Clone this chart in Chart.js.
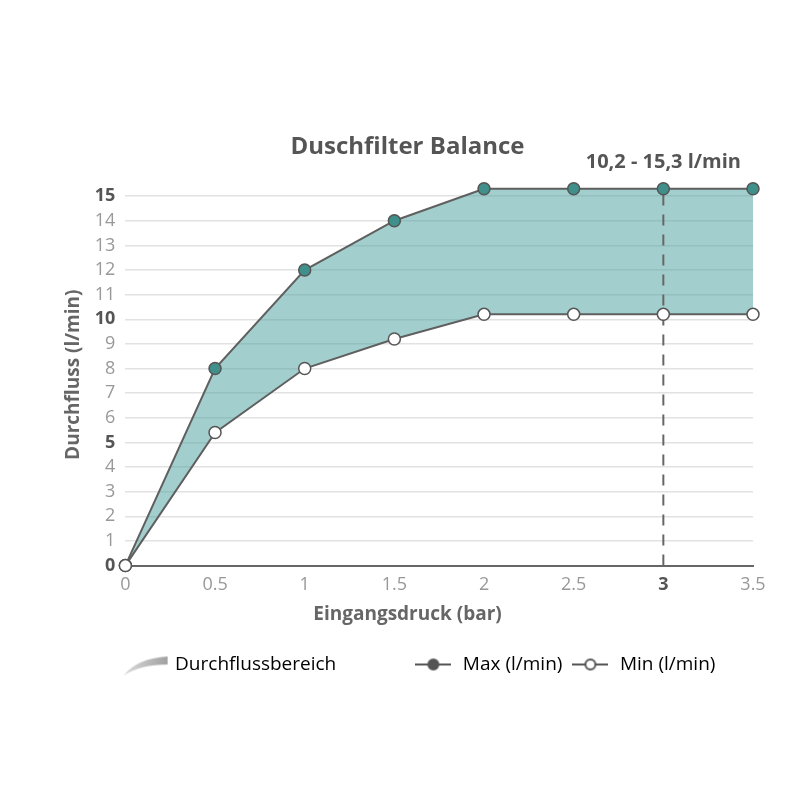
<!DOCTYPE html>
<html>
<head>
<meta charset="utf-8">
<style>
  body { margin: 0; background: #fff; }
  #wrap { width: 800px; height: 800px; }
</style>
<script src="https://cdn.jsdelivr.net/npm/chart.js@4"></script>
</head>
<body>
<div id="wrap"><canvas id="flowChart"></canvas></div>
<script>
const pressure = [0, 0.5, 1, 1.5, 2, 2.5, 3, 3.5];
const maxFlow = [0, 8, 12, 14, 15.3, 15.3, 15.3, 15.3];
const minFlow = [0, 5.4, 8, 9.2, 10.2, 10.2, 10.2, 10.2];
const markerX = 3;
const rangeLabel = '10,2 - 15,3 l/min';
const legendLabels = ['Durchflussbereich', 'Max (l/min)', 'Min (l/min)'];

const FONT = '"Open Sans", sans-serif';
const toPoints = ys => pressure.map((x, i) => ({ x: x, y: ys[i] }));
const isX = c => !!(c.tick && c.tick.value === markerX);
const isFive = c => !!(c.tick && c.tick.value % 5 === 0);

// little icons for the legend
function swooshIcon() {
    const c = document.createElement('canvas');
    c.width = 46; c.height = 24;
    const g = c.getContext('2d');
    const grad = g.createLinearGradient(0, 0, 46, 0);
    grad.addColorStop(0, '#dcdcdc');
    grad.addColorStop(1, '#a0a0a0');
    g.fillStyle = grad;
    g.beginPath();
    g.moveTo(1, 23);
    g.quadraticCurveTo(14, 6, 45, 4);
    g.lineTo(45, 12);
    g.quadraticCurveTo(18, 12, 1, 23);
    g.closePath();
    g.fill();
    return c;
}
function lineDotIcon(filled) {
    const c = document.createElement('canvas');
    c.width = 36; c.height = 14;
    const g = c.getContext('2d');
    g.strokeStyle = '#555';
    g.lineWidth = 2;
    g.beginPath(); g.moveTo(0, 7); g.lineTo(36, 7); g.stroke();
    g.beginPath(); g.arc(18, 7, 5, 0, Math.PI * 2);
    g.fillStyle = filled ? '#555' : '#fff';
    g.fill(); g.stroke();
    return c;
}
const icons = [swooshIcon(), lineDotIcon(true), lineDotIcon(false)];
const pad = [' '.repeat(14), '', ' '.repeat(6)];

const rangeText = {
    id: 'rangeText',
    afterDatasetsDraw(chart) {
        const ctx = chart.ctx;
        const x = chart.scales.x.getPixelForValue(markerX);
        ctx.save();
        ctx.font = 'bold 20px ' + FONT;
        ctx.fillStyle = '#555';
        ctx.textAlign = 'center';
        ctx.textBaseline = 'middle';
        ctx.fillText(rangeLabel, x, chart.chartArea.top - 22);
        ctx.restore();
    }
};

const ctx = document.getElementById('flowChart').getContext('2d');
const flowChart = new Chart(ctx, {
    type: 'line',
    data: {
        datasets: [{
            label: 'Min (l/min)',
            data: toPoints(minFlow),
            borderColor: '#5f5f5f',
            borderWidth: 2,
            pointRadius: 6,
            pointBackgroundColor: '#fff',
            pointBorderColor: '#555',
            pointBorderWidth: 1.5,
            fill: false,
            clip: false
        }, {
            label: 'Max (l/min)',
            data: toPoints(maxFlow),
            borderColor: '#5f5f5f',
            borderWidth: 2,
            pointRadius: 6,
            pointBackgroundColor: '#3f8f8b',
            pointBorderColor: '#555',
            pointBorderWidth: 1.5,
            backgroundColor: 'rgba(70,160,155,0.5)',
            fill: 0,
            clip: false
        }, {
            label: 'marker',
            data: [{ x: markerX, y: 0 }, { x: markerX, y: maxFlow[pressure.indexOf(markerX)] }],
            borderColor: '#666',
            borderWidth: 2,
            borderDash: [11, 9],
            pointRadius: 0,
            fill: false,
            clip: false
        }]
    },
    options: {
        responsive: true,
        maintainAspectRatio: false,
        animation: false,
        layout: { padding: { top: 133, left: 62, right: 47, bottom: 116 } },
        plugins: {
            filler: { drawTime: 'beforeDatasetsDraw' },
            tooltip: { enabled: false },
            title: {
                display: true,
                text: 'Duschfilter Balance',
                color: '#555',
                font: { family: FONT, size: 24, weight: 'bold' },
                padding: { top: 0, bottom: 22 }
            },
            subtitle: {
                display: true,
                position: 'bottom',
                weight: 500,
                text: 'Eingangsdruck (bar)',
                color: '#666',
                font: { family: FONT, size: 19, weight: 'bold' },
                padding: { top: 8, bottom: 21 }
            },
            legend: {
                position: 'bottom',
                align: 'end',
                labels: {
                    usePointStyle: true,
                    pointStyleWidth: 40,
                    padding: 8,
                    color: '#666',
                    font: { family: FONT, size: 19 },
                    generateLabels: () => legendLabels.map((t, i) => ({
                        text: t + pad[i],
                        pointStyle: icons[i],
                        fillStyle: '#fff',
                        strokeStyle: '#fff',
                        lineWidth: 0,
                        hidden: false,
                        datasetIndex: i
                    }))
                },
                onClick: null
            }
        },
        scales: {
            x: {
                type: 'linear',
                min: 0,
                max: 3.5,
                grid: { display: false },
                border: { display: true, color: '#666', width: 2 },
                ticks: {
                    stepSize: 0.5,
                    padding: 0,
                    callback: v => String(v),
                    color: c => isX(c) ? '#555' : '#999',
                    font: c => ({ family: FONT, size: 18, weight: isX(c) ? 'bold' : 'normal' })
                }
            },
            y: {
                min: 0,
                max: 15.5,
                border: { display: false },
                grid: { color: '#e2e2e2', lineWidth: 1.5, drawTicks: false },
                ticks: {
                    stepSize: 1,
                    includeBounds: false,
                    padding: 10,
                    color: c => isFive(c) ? '#555' : '#999',
                    font: c => ({ family: FONT, size: 18, weight: isFive(c) ? 'bold' : 'normal' })
                },
                title: {
                    display: true,
                    text: 'Durchfluss (l/min)',
                    color: '#666',
                    font: { family: FONT, size: 19, weight: 'bold' },
                    padding: { top: 0, bottom: 0 }
                }
            }
        }
    },
    plugins: [rangeText]
});
</script>
</body>
</html>
